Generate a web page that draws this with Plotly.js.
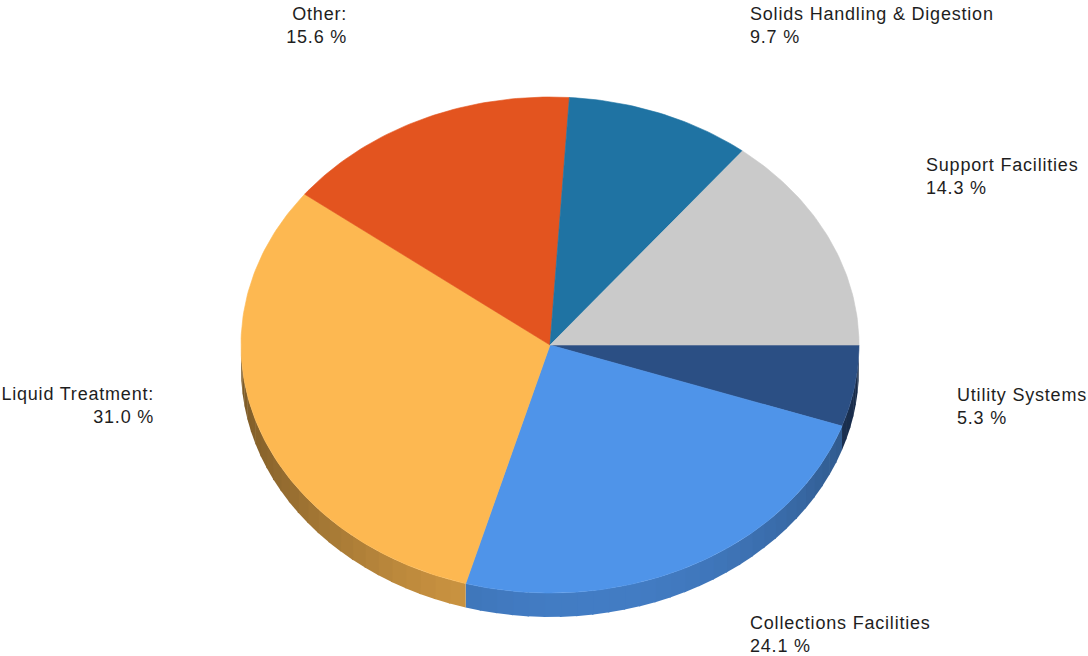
<!DOCTYPE html>
<html>
<head>
<meta charset="utf-8">
<script src="https://cdn.plot.ly/plotly-3.0.1.min.js"></script>
<style>
  html, body { margin: 0; padding: 0; background: #ffffff; }
  #chart { width: 1088px; height: 656px; }
  #chart .annotation-text { letter-spacing: 0.8px; }
</style>
</head>
<body>
<div id="chart"></div>
<script>
// ---- data (clockwise from 3 o'clock) ----
const categories = ["Utility Systems", "Collections Facilities", "Liquid Treatment:", "Other:", "Solids Handling & Digestion", "Support Facilities"];
const values = [5.3, 24.1, 31.0, 15.6, 9.7, 14.3];
const sliceColors = ["#2b4f84", "#4f94e9", "#fdb851", "#e3541f", "#1f73a3", "#cacaca"];

// ---- geometry / style (layout, not data) ----
const W = 1088, H = 656;
const cx = 550, cy = 345, rx = 309, ry = 248, depth = 24;
const labelPos = [
  {x: 955, y: 406, xanchor: "left",  align: "left"},
  {x: 748, y: 634, xanchor: "left",  align: "left"},
  {x: 156, y: 405, xanchor: "right", align: "right"},
  {x: 349, y: 25,  xanchor: "right", align: "right"},
  {x: 748, y: 25,  xanchor: "left",  align: "left"},
  {x: 924, y: 176, xanchor: "left",  align: "left"}
];

function hexToRgb(h) {
  const n = parseInt(h.slice(1), 16);
  return [(n >> 16) & 255, (n >> 8) & 255, n & 255];
}
function shade(h, f) {
  const c = hexToRgb(h).map(v => Math.max(0, Math.min(255, Math.round(v * f))));
  return "rgb(" + c.join(",") + ")";
}
const rad = d => d * Math.PI / 180;
const px = t => cx + rx * Math.cos(rad(t));
const py = t => cy + ry * Math.sin(rad(t));

const total = values.reduce((a, b) => a + b, 0);
let acc = 0;
const slices = values.map((v, i) => {
  const a0 = acc / total * 360;
  acc += v;
  const a1 = acc / total * 360;
  return {a0, a1, i};
});

const traces = [];

// side (visible lower half, 0..180 deg)
slices.forEach(s => {
  const lo = Math.max(s.a0, 0), hi = Math.min(s.a1, 180);
  if (hi <= lo) return;
  const nStrips = Math.max(1, Math.ceil((hi - lo) / 3));
  for (let k = 0; k < nStrips; k++) {
    const s0 = lo + (hi - lo) * k / nStrips;
    const s1 = lo + (hi - lo) * (k + 1) / nStrips + (k < nStrips - 1 ? 0.3 : 0);
    const xs = [], ys = [];
    const steps = 6;
    for (let j = 0; j <= steps; j++) {
      const t = s0 + (s1 - s0) * j / steps;
      xs.push(px(t)); ys.push(py(t));
    }
    for (let j = steps; j >= 0; j--) {
      const t = s0 + (s1 - s0) * j / steps;
      xs.push(px(t)); ys.push(py(t) + depth);
    }
    const mid = (s0 + s1) / 2;
    const f = 0.48 + 0.36 * Math.pow(Math.sin(rad(mid * 0.85 + 20)), 2);
    traces.push({
      type: "scatter", mode: "lines", x: xs, y: ys, fill: "toself",
      fillcolor: shade(sliceColors[s.i], f),
      line: {width: 0, color: "rgba(0,0,0,0)"},
      hoverinfo: "skip", showlegend: false
    });
  }
});

// top faces
slices.forEach(s => {
  const xs = [cx], ys = [cy];
  const steps = Math.max(8, Math.ceil((s.a1 - s.a0) / 1));
  for (let j = 0; j <= steps; j++) {
    const t = s.a0 + (s.a1 - s.a0) * j / steps;
    xs.push(px(t)); ys.push(py(t));
  }
  xs.push(cx); ys.push(cy);
  traces.push({
    type: "scatter", mode: "lines", x: xs, y: ys, fill: "toself",
    fillcolor: sliceColors[s.i],
    line: {width: 0.6, color: sliceColors[s.i]},
    name: categories[s.i],
    hoverinfo: "name", showlegend: false
  });
});

const annotations = categories.map((c, i) => ({
  xref: "x", yref: "y",
  x: labelPos[i].x, y: labelPos[i].y,
  xanchor: labelPos[i].xanchor, yanchor: "middle",
  align: labelPos[i].align,
  showarrow: false,
  text: c + "<br>" + values[i].toFixed(1) + " %",
  font: {family: "Liberation Sans, Arial, sans-serif", size: 18, color: "#1e1e1e"}
}));

const layout = {
  width: W, height: H,
  margin: {l: 0, r: 0, t: 0, b: 0},
  paper_bgcolor: "#ffffff", plot_bgcolor: "#ffffff",
  xaxis: {range: [0, W], visible: false, fixedrange: true},
  yaxis: {range: [H, 0], visible: false, fixedrange: true},
  showlegend: false,
  annotations: annotations
};

Plotly.newPlot("chart", traces, layout, {displayModeBar: false, staticPlot: true});
</script>
</body>
</html>
